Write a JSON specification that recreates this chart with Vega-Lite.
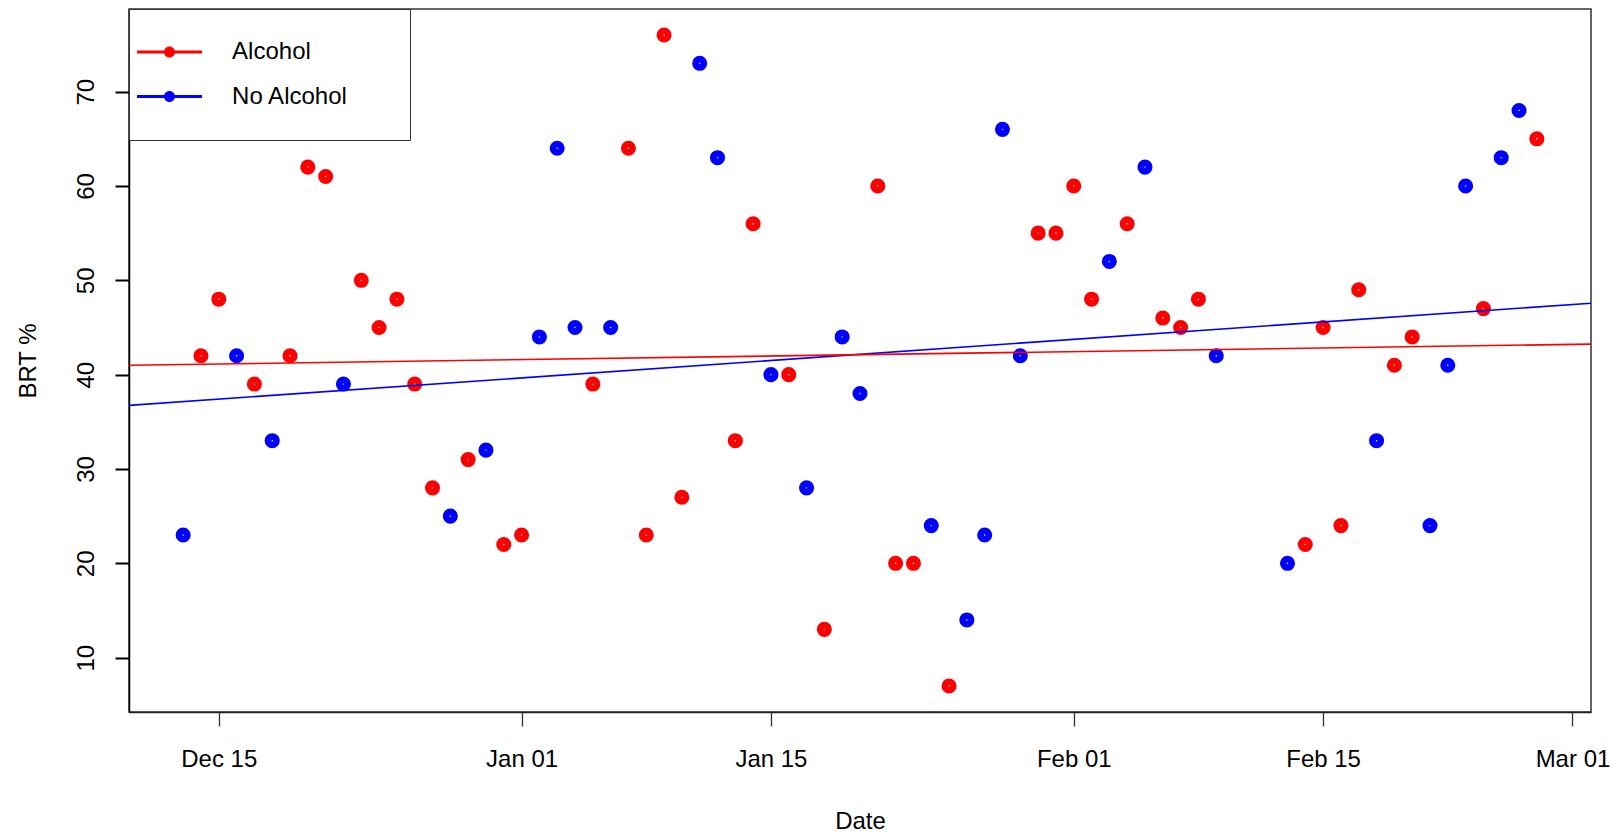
{
  "$schema": "https://vega.github.io/schema/vega-lite/v6.json",
  "width": 1462,
  "height": 703,
  "autosize": "none",
  "padding": {"left": 129, "top": 9, "right": 21, "bottom": 123},
  "background": "white",
  "config": {
    "view": {"stroke": "#333333", "strokeWidth": 1.5},
    "font": "Liberation Sans",
    "axis": {"labelFont": "Liberation Sans", "titleFont": "Liberation Sans", "grid": false}
  },
  "data": {
    "format": {"parse": {"date": "date"}},
    "values": [
      {"date": "2018-12-13", "brt": 23, "group": "No Alcohol"},
      {"date": "2018-12-14", "brt": 42, "group": "Alcohol"},
      {"date": "2018-12-15", "brt": 48, "group": "Alcohol"},
      {"date": "2018-12-16", "brt": 42, "group": "No Alcohol"},
      {"date": "2018-12-17", "brt": 39, "group": "Alcohol"},
      {"date": "2018-12-18", "brt": 33, "group": "No Alcohol"},
      {"date": "2018-12-19", "brt": 42, "group": "Alcohol"},
      {"date": "2018-12-20", "brt": 62, "group": "Alcohol"},
      {"date": "2018-12-21", "brt": 61, "group": "Alcohol"},
      {"date": "2018-12-22", "brt": 39, "group": "No Alcohol"},
      {"date": "2018-12-23", "brt": 50, "group": "Alcohol"},
      {"date": "2018-12-24", "brt": 45, "group": "Alcohol"},
      {"date": "2018-12-25", "brt": 48, "group": "Alcohol"},
      {"date": "2018-12-26", "brt": 39, "group": "Alcohol"},
      {"date": "2018-12-27", "brt": 28, "group": "Alcohol"},
      {"date": "2018-12-28", "brt": 25, "group": "No Alcohol"},
      {"date": "2018-12-29", "brt": 31, "group": "Alcohol"},
      {"date": "2018-12-30", "brt": 32, "group": "No Alcohol"},
      {"date": "2018-12-31", "brt": 22, "group": "Alcohol"},
      {"date": "2019-01-01", "brt": 23, "group": "Alcohol"},
      {"date": "2019-01-02", "brt": 44, "group": "No Alcohol"},
      {"date": "2019-01-03", "brt": 64, "group": "No Alcohol"},
      {"date": "2019-01-04", "brt": 45, "group": "No Alcohol"},
      {"date": "2019-01-05", "brt": 39, "group": "Alcohol"},
      {"date": "2019-01-06", "brt": 45, "group": "No Alcohol"},
      {"date": "2019-01-07", "brt": 64, "group": "Alcohol"},
      {"date": "2019-01-08", "brt": 23, "group": "Alcohol"},
      {"date": "2019-01-09", "brt": 76, "group": "Alcohol"},
      {"date": "2019-01-10", "brt": 27, "group": "Alcohol"},
      {"date": "2019-01-11", "brt": 73, "group": "No Alcohol"},
      {"date": "2019-01-12", "brt": 63, "group": "No Alcohol"},
      {"date": "2019-01-13", "brt": 33, "group": "Alcohol"},
      {"date": "2019-01-14", "brt": 56, "group": "Alcohol"},
      {"date": "2019-01-15", "brt": 40, "group": "No Alcohol"},
      {"date": "2019-01-16", "brt": 40, "group": "Alcohol"},
      {"date": "2019-01-17", "brt": 28, "group": "No Alcohol"},
      {"date": "2019-01-18", "brt": 13, "group": "Alcohol"},
      {"date": "2019-01-19", "brt": 44, "group": "No Alcohol"},
      {"date": "2019-01-20", "brt": 38, "group": "No Alcohol"},
      {"date": "2019-01-21", "brt": 60, "group": "Alcohol"},
      {"date": "2019-01-22", "brt": 20, "group": "Alcohol"},
      {"date": "2019-01-23", "brt": 20, "group": "Alcohol"},
      {"date": "2019-01-24", "brt": 24, "group": "No Alcohol"},
      {"date": "2019-01-25", "brt": 7, "group": "Alcohol"},
      {"date": "2019-01-26", "brt": 14, "group": "No Alcohol"},
      {"date": "2019-01-27", "brt": 23, "group": "No Alcohol"},
      {"date": "2019-01-28", "brt": 66, "group": "No Alcohol"},
      {"date": "2019-01-29", "brt": 42, "group": "No Alcohol"},
      {"date": "2019-01-30", "brt": 55, "group": "Alcohol"},
      {"date": "2019-01-31", "brt": 55, "group": "Alcohol"},
      {"date": "2019-02-01", "brt": 60, "group": "Alcohol"},
      {"date": "2019-02-02", "brt": 48, "group": "Alcohol"},
      {"date": "2019-02-03", "brt": 52, "group": "No Alcohol"},
      {"date": "2019-02-04", "brt": 56, "group": "Alcohol"},
      {"date": "2019-02-05", "brt": 62, "group": "No Alcohol"},
      {"date": "2019-02-06", "brt": 46, "group": "Alcohol"},
      {"date": "2019-02-07", "brt": 45, "group": "Alcohol"},
      {"date": "2019-02-08", "brt": 48, "group": "Alcohol"},
      {"date": "2019-02-09", "brt": 42, "group": "No Alcohol"},
      {"date": "2019-02-13", "brt": 20, "group": "No Alcohol"},
      {"date": "2019-02-14", "brt": 22, "group": "Alcohol"},
      {"date": "2019-02-15", "brt": 45, "group": "Alcohol"},
      {"date": "2019-02-16", "brt": 24, "group": "Alcohol"},
      {"date": "2019-02-17", "brt": 49, "group": "Alcohol"},
      {"date": "2019-02-18", "brt": 33, "group": "No Alcohol"},
      {"date": "2019-02-19", "brt": 41, "group": "Alcohol"},
      {"date": "2019-02-20", "brt": 44, "group": "Alcohol"},
      {"date": "2019-02-21", "brt": 24, "group": "No Alcohol"},
      {"date": "2019-02-22", "brt": 41, "group": "No Alcohol"},
      {"date": "2019-02-23", "brt": 60, "group": "No Alcohol"},
      {"date": "2019-02-24", "brt": 47, "group": "Alcohol"},
      {"date": "2019-02-25", "brt": 63, "group": "No Alcohol"},
      {"date": "2019-02-26", "brt": 68, "group": "No Alcohol"},
      {"date": "2019-02-27", "brt": 65, "group": "Alcohol"}
    ]
  },
  "encoding": {
    "x": {
      "field": "date",
      "type": "temporal",
      "scale": {"type": "utc", "domain": [1544396544000, 1551488256000]},
      "axis": {
        "values": [1544832000000, 1546300800000, 1547510400000, 1548979200000, 1550188800000, 1551398400000],
        "labelExpr": "utcFormat(datum.value, '%b %d')",
        "labelFontSize": 24,
        "labelColor": "black",
        "labelBaseline": "alphabetic",
        "labelAlign": "center",
        "labelPadding": 40.7,
        "labelFlush": false,
        "labelOverlap": false,
        "labelBound": false,
        "tickSize": 14,
        "tickWidth": 1.3,
        "tickColor": "#333333",
        "domainColor": "#222222",
        "domainWidth": 1.5,
        "title": "Date",
        "titleFontSize": 24,
        "titleFontWeight": "normal",
        "titleColor": "black",
        "titleX": 731,
        "titleY": 116.3,
        "titleAlign": "center",
        "titleBaseline": "alphabetic"
      }
    },
    "y": {
      "field": "brt",
      "type": "quantitative",
      "scale": {"domain": [4.24, 78.76], "nice": false, "zero": false},
      "axis": {
        "values": [10, 20, 30, 40, 50, 60, 70],
        "labelAngle": -90,
        "labelAlign": "center",
        "labelBaseline": "alphabetic",
        "labelPadding": 21.5,
        "labelFontSize": 24,
        "labelColor": "black",
        "labelOverlap": false,
        "tickSize": 14,
        "tickWidth": 2,
        "tickColor": "black",
        "domainColor": "black",
        "domainWidth": 1.5,
        "title": "BRT %",
        "titleFontSize": 24,
        "titleFontWeight": "normal",
        "titleColor": "black",
        "titleAngle": -90,
        "titleX": -94,
        "titleY": 351.5,
        "titleAlign": "center",
        "titleBaseline": "alphabetic"
      }
    }
  },
  "layer": [
    {
      "mark": {"type": "point", "filled": true, "size": 227, "opacity": 1, "strokeWidth": 0},
      "encoding": {
        "color": {
          "field": "group",
          "type": "nominal",
          "scale": {"domain": ["Alcohol", "No Alcohol"], "range": ["#FF0000", "#0000FF"]},
          "legend": {
            "orient": "none",
            "legendX": 0,
            "legendY": 0,
            "title": "\u00a0",
            "titleOrient": "right",
            "titleFontSize": 1,
            "titlePadding": 30.7,
            "symbolType": "M-3.25,-0.15H3.25V0.15H-3.25Z M-0.55,0A0.55,0.55,0,1,1,0.55,0A0.55,0.55,0,1,1,-0.55,0Z",
            "symbolSize": 400,
            "symbolStrokeWidth": 0,
            "symbolOffset": -2.5,
            "labelOffset": 50.6,
            "labelFontSize": 24,
            "labelFont": "Liberation Sans",
            "labelColor": "black",
            "labelLimit": 0,
            "padding": 31,
            "rowPadding": 20.6,
            "strokeColor": "#333333",
            "fillColor": "white"
          }
        }
      }
    },
    {
      "mark": {"type": "point", "filled": true, "size": 2, "color": "white", "opacity": 1, "strokeWidth": 0}
    },
    {
      "transform": [
        {"regression": "brt", "on": "date", "groupby": ["group"], "extent": [1544396544000, 1551488256000]}
      ],
      "mark": {"type": "line", "strokeWidth": 1.6, "clip": true},
      "encoding": {
        "stroke": {
          "field": "group",
          "type": "nominal",
          "scale": {"domain": ["Alcohol", "No Alcohol"], "range": ["#FF0000", "#0000FF"]},
          "legend": null
        }
      }
    }
  ]
}
